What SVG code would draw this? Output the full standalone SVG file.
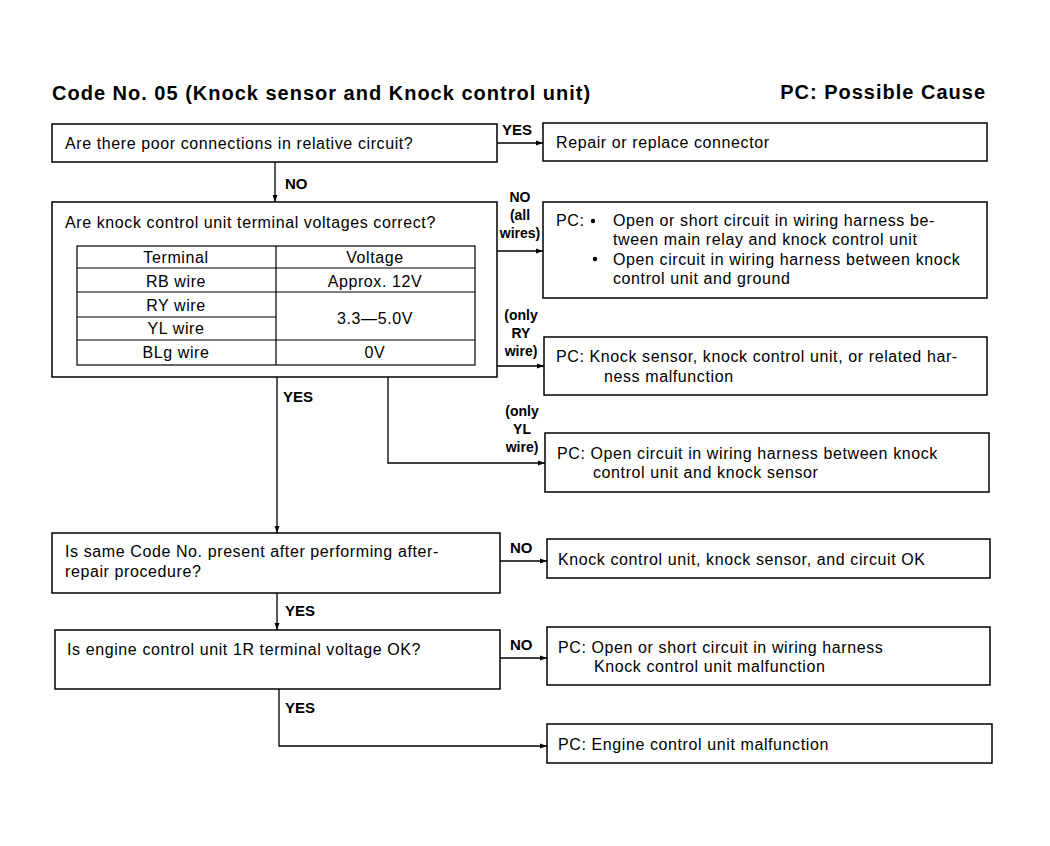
<svg xmlns="http://www.w3.org/2000/svg" width="1050" height="846" viewBox="0 0 1050 846">
<style>
.box{fill:#fff;stroke:#000;stroke-width:1.5}
.t{font-family:"Liberation Sans",Arial,sans-serif;font-size:16px;letter-spacing:0.6px;fill:#000}
.tc{font-family:"Liberation Sans",Arial,sans-serif;font-size:16px;letter-spacing:0.6px;fill:#000;text-anchor:middle}
.lb{font-family:"Liberation Sans",Arial,sans-serif;font-size:15px;font-weight:bold;fill:#000}
.lbc{font-family:"Liberation Sans",Arial,sans-serif;font-size:14px;font-weight:bold;fill:#000;text-anchor:middle}
.ttl{font-family:"Liberation Sans",Arial,sans-serif;font-size:20px;letter-spacing:1px;font-weight:bold;fill:#000}
.ln{fill:none;stroke:#000;stroke-width:1.3}
.tl{fill:none;stroke:#000;stroke-width:1.2}
</style>
<defs>
<marker id="ah" viewBox="0 0 10 10" refX="10" refY="5" markerWidth="7" markerHeight="7" markerUnits="userSpaceOnUse" orient="auto">
<path d="M0,1.5 L10,5 L0,8.5 Z" fill="#000"/>
</marker>
</defs>
<rect width="1050" height="846" fill="#fff"/>
<text class="ttl" x="52" y="100">Code No. 05 (Knock sensor and Knock control unit)</text>
<text class="ttl" x="986" y="99" text-anchor="end">PC: Possible Cause</text>

<g id="connectors">
<path class="ln" d="M497,143 H543" marker-end="url(#ah)"/>
<text class="lb" x="502" y="135">YES</text>
<path class="ln" d="M275,162 V202" marker-end="url(#ah)"/>
<text class="lb" x="285" y="189">NO</text>
<path class="ln" d="M497,251 H543" marker-end="url(#ah)"/>
<text class="lbc" x="520" y="202">NO</text>
<text class="lbc" x="520" y="220">(all</text>
<text class="lbc" x="520" y="238">wires)</text>
<path class="ln" d="M497,366 H544" marker-end="url(#ah)"/>
<text class="lbc" x="521" y="320">(only</text>
<text class="lbc" x="521" y="338">RY</text>
<text class="lbc" x="521" y="356">wire)</text>
<path class="ln" d="M388,377 V463 H545" marker-end="url(#ah)"/>
<text class="lbc" x="522" y="416">(only</text>
<text class="lbc" x="522" y="434">YL</text>
<text class="lbc" x="522" y="452">wire)</text>
<path class="ln" d="M277,377 V533" marker-end="url(#ah)"/>
<text class="lb" x="283" y="402">YES</text>
<path class="ln" d="M500,561 H547" marker-end="url(#ah)"/>
<text class="lb" x="510" y="553">NO</text>
<path class="ln" d="M277,593 V630" marker-end="url(#ah)"/>
<text class="lb" x="285" y="616">YES</text>
<path class="ln" d="M500,658 H547" marker-end="url(#ah)"/>
<text class="lb" x="510" y="650">NO</text>
<path class="ln" d="M279,689 V746 H547" marker-end="url(#ah)"/>
<text class="lb" x="285" y="713">YES</text>
</g>

<g id="q1">
<rect class="box" x="52" y="124" width="445" height="38"/>
<text class="t" x="65" y="149">Are there poor connections in relative circuit?</text>
</g>
<g id="r1">
<rect class="box" x="543" y="123" width="444" height="38"/>
<text class="t" x="556" y="148">Repair or replace connector</text>
</g>

<g id="q2">
<rect class="box" x="52" y="202" width="445" height="175"/>
<text class="t" x="65" y="228">Are knock control unit terminal voltages correct?</text>
<rect class="tl" x="77" y="246" width="398" height="119"/>
<path class="tl" d="M276,246 V365 M77,268 H475 M77,292 H475 M77,317 H276 M77,340 H475"/>
<text class="tc" x="176" y="263">Terminal</text>
<text class="tc" x="375" y="263">Voltage</text>
<text class="tc" x="176" y="287">RB wire</text>
<text class="tc" x="375" y="287">Approx. 12V</text>
<text class="tc" x="176" y="311">RY wire</text>
<text class="tc" x="176" y="334">YL wire</text>
<text class="tc" x="375" y="324">3.3—5.0V</text>
<text class="tc" x="176" y="358">BLg wire</text>
<text class="tc" x="375" y="358">0V</text>
</g>

<g id="r2">
<rect class="box" x="543" y="202" width="444" height="96"/>
<text class="t" x="556" y="226">PC:</text>
<circle cx="593" cy="221" r="2.2" fill="#000"/>
<text class="t" x="613" y="226">Open or short circuit in wiring harness be-</text>
<text class="t" x="613" y="245">tween main relay and knock control unit</text>
<circle cx="595" cy="259" r="2.2" fill="#000"/>
<text class="t" x="613" y="265">Open circuit in wiring harness between knock</text>
<text class="t" x="613" y="284">control unit and ground</text>
</g>

<g id="r3">
<rect class="box" x="544" y="337" width="443" height="58"/>
<text class="t" x="556" y="362">PC: Knock sensor, knock control unit, or related har-</text>
<text class="t" x="604" y="382">ness malfunction</text>
</g>

<g id="r4">
<rect class="box" x="545" y="433" width="444" height="59"/>
<text class="t" x="557" y="459">PC: Open circuit in wiring harness between knock</text>
<text class="t" x="593" y="478">control unit and knock sensor</text>
</g>

<g id="q3">
<rect class="box" x="52" y="533" width="448" height="60"/>
<text class="t" x="65" y="557">Is same Code No. present after performing after-</text>
<text class="t" x="65" y="577">repair procedure?</text>
</g>
<g id="r5">
<rect class="box" x="547" y="539" width="443" height="39"/>
<text class="t" x="558" y="565">Knock control unit, knock sensor, and circuit OK</text>
</g>

<g id="q4">
<rect class="box" x="55" y="630" width="445" height="59"/>
<text class="t" x="67" y="655">Is engine control unit 1R terminal voltage OK?</text>
</g>
<g id="r6">
<rect class="box" x="547" y="627" width="443" height="58"/>
<text class="t" x="558" y="653">PC: Open or short circuit in wiring harness</text>
<text class="t" x="594" y="672">Knock control unit malfunction</text>
</g>

<g id="r7">
<rect class="box" x="547" y="724" width="445" height="39"/>
<text class="t" x="558" y="750">PC: Engine control unit malfunction</text>
</g>
</svg>
